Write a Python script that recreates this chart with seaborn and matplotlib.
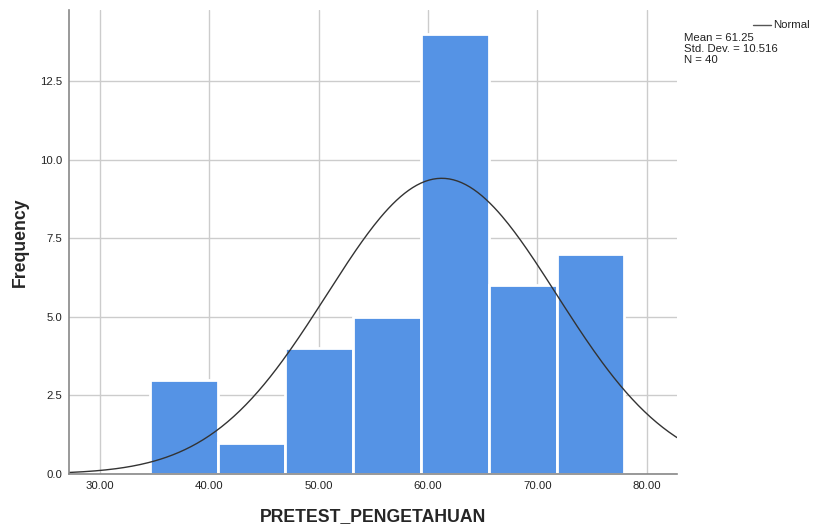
import numpy as np
import pandas as pd
import matplotlib
matplotlib.use("Agg")
import matplotlib.pyplot as plt
import seaborn as sns

# Histogram bins
bin_start = 34.55
bin_width = 6.2
bin_mids = [37.65, 43.85, 50.05, 56.25, 62.45, 68.65, 74.85]
counts = [3, 1, 4, 5, 14, 6, 7]

# Stats shown in the legend
mean = 61.25
std_dev = 10.516
n = 40

x_ticks = [30, 40, 50, 60, 70, 80]
y_ticks = [0, 2.5, 5, 7.5, 10, 12.5]

df = pd.DataFrame({"score": bin_mids, "count": counts})
bin_end = bin_start + bin_width * len(bin_mids)

sns.set_style("white")
plt.rcParams["font.family"] = ["Liberation Sans", "DejaVu Sans"]

fig = plt.figure(figsize=(8.15, 5.31), dpi=100)
ax = fig.add_axes([0.0847, 0.1073, 0.7460, 0.8737])

sns.histplot(data=df, x="score", weights="count", binwidth=bin_width,
             binrange=(bin_start, bin_end), ax=ax,
             color="#5593E5", alpha=1, edgecolor="white", linewidth=2.0, zorder=2)

# Normal curve scaled to the histogram
xs = np.linspace(27.16, 82.77, 300)
ys = n * bin_width * np.exp(-0.5 * ((xs - mean) / std_dev) ** 2) / (std_dev * np.sqrt(2 * np.pi))
ax.plot(xs, ys, color="#333333", linewidth=1, zorder=3)

ax.set_xlim(27.16, 82.77)
ax.set_ylim(0, 14.76)
ax.set_xticks(x_ticks)
ax.set_xticklabels([f"{t:.2f}" for t in x_ticks])
ax.set_yticks(y_ticks)
ax.set_yticklabels([f"{t:.1f}" for t in y_ticks])
ax.tick_params(length=0, labelsize=8.2, colors="#222222", pad=5)
ax.grid(True, color="#cccccc", linewidth=1, zorder=0)
ax.set_axisbelow(True)

for s in ["top", "right"]:
    ax.spines[s].set_visible(False)
for s in ["left", "bottom"]:
    ax.spines[s].set_color("#888888")
    ax.spines[s].set_linewidth(1.2)
    ax.spines[s].set_zorder(4)

ax.set_xlabel("PRETEST_PENGETAHUAN", fontsize=12.7, fontweight="bold", labelpad=12)
ax.set_ylabel("Frequency", fontsize=12.7, fontweight="bold", labelpad=8)

# Legend area on the right
fig.add_artist(plt.Line2D([753 / 815, 771 / 815], [1 - 25 / 531, 1 - 25 / 531],
                          color="#555555", linewidth=1))
fig.text(773 / 815, 1 - 25 / 531, "Normal", fontsize=8.2, va="center", color="#222222")
fig.text(684 / 815, 1 - 33 / 531,
         f"Mean = {mean}\nStd. Dev. = {std_dev}\nN = {n}",
         fontsize=8.2, va="top", ha="left", linespacing=1.1, color="#222222")

fig.savefig("out.png", dpi=100)
